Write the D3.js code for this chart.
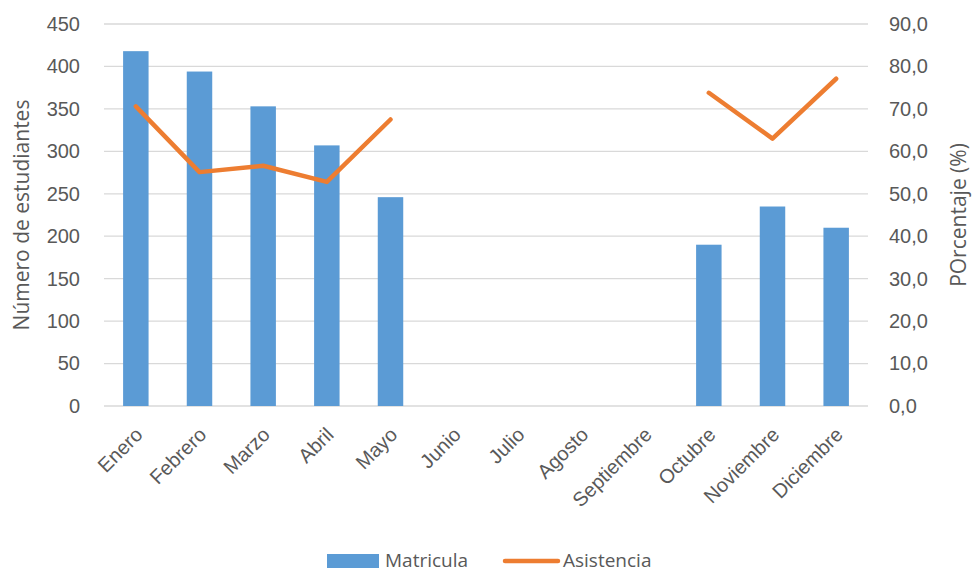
<!DOCTYPE html>
<html>
<head>
<meta charset="utf-8">
<script src="https://cdn.jsdelivr.net/npm/d3@7"></script>
<style>
  body { margin: 0; background: #fff; }
  svg { font-family: "Open Sans", sans-serif; }
</style>
</head>
<body>
<div id="chart"></div>
<script>
const months = ['Enero', 'Febrero', 'Marzo', 'Abril', 'Mayo', 'Junio', 'Julio',
  'Agosto', 'Septiembre', 'Octubre', 'Noviembre', 'Diciembre'];
const matricula = [418, 394, 353, 307, 246, null, null, null, null, 190, 235, 210];
const asistencia = [70.6, 55.1, 56.6, 52.8, 67.5, null, null, null, null, 73.8, 63.0, 77.1];
const leftTicks = [0, 50, 100, 150, 200, 250, 300, 350, 400, 450];
const rightTicks = [0, 10, 20, 30, 40, 50, 60, 70, 80, 90];

const width = 972, height = 572;
const margin = { top: 24, right: 104, bottom: 166, left: 104 };
const textColor = '#595959';

const svg = d3.select('#chart').append('svg')
  .attr('width', width)
  .attr('height', height);

const x = d3.scaleBand()
  .domain(months)
  .range([margin.left, width - margin.right])
  .paddingInner(0.6)
  .paddingOuter(0.3);

const yLeft = d3.scaleLinear().domain([0, 450]).range([height - margin.bottom, margin.top]);
const yRight = d3.scaleLinear().domain([0, 90]).range([height - margin.bottom, margin.top]);

// gridlines
svg.append('g')
  .selectAll('line')
  .data(leftTicks)
  .join('line')
  .attr('x1', margin.left)
  .attr('x2', width - margin.right)
  .attr('y1', d => yLeft(d))
  .attr('y2', d => yLeft(d))
  .attr('stroke', '#d9d9d9')
  .attr('stroke-width', 1.3);

// bars
svg.append('g')
  .selectAll('rect')
  .data(months.map((m, i) => ({ m, v: matricula[i] })).filter(d => d.v != null))
  .join('rect')
  .attr('x', d => x(d.m))
  .attr('y', d => yLeft(d.v))
  .attr('width', x.bandwidth())
  .attr('height', d => yLeft(0) - yLeft(d.v))
  .attr('fill', '#5B9BD5');

// line (gap where there is no data)
const line = d3.line()
  .defined(d => d.v != null)
  .x(d => x(d.m) + x.bandwidth() / 2)
  .y(d => yRight(d.v));

svg.append('path')
  .datum(months.map((m, i) => ({ m, v: asistencia[i] })))
  .attr('fill', 'none')
  .attr('stroke', '#ED7D31')
  .attr('stroke-width', 4.5)
  .attr('stroke-linejoin', 'round')
  .attr('stroke-linecap', 'round')
  .attr('d', line);

// left axis
const leftAxis = svg.append('g')
  .attr('transform', `translate(${margin.left},0)`)
  .call(d3.axisLeft(yLeft).tickValues(leftTicks).tickSize(0).tickPadding(24));
leftAxis.select('.domain').remove();
leftAxis.selectAll('text')
  .attr('fill', textColor)
  .style('font-size', '20px');

// right axis
const rightAxis = svg.append('g')
  .attr('transform', `translate(${width - margin.right},0)`)
  .call(d3.axisRight(yRight).tickValues(rightTicks).tickSize(0).tickPadding(21)
    .tickFormat(d => d3.format('.1f')(d).replace('.', ',')));
rightAxis.select('.domain').remove();
rightAxis.selectAll('text')
  .attr('fill', textColor)
  .style('font-size', '20px');

// bottom axis labels
const bottomAxis = svg.append('g')
  .attr('transform', `translate(0,${height - margin.bottom})`)
  .call(d3.axisBottom(x).tickSize(0).tickPadding(0));
bottomAxis.select('.domain').remove();
bottomAxis.selectAll('text')
  .attr('fill', textColor)
  .style('font-size', '20px')
  .attr('text-anchor', 'end')
  .attr('dy', 0)
  .attr('transform', 'translate(8,30) rotate(-45)');

// axis titles
svg.append('text')
  .attr('transform', `translate(29,${(margin.top + height - margin.bottom) / 2}) rotate(-90)`)
  .attr('text-anchor', 'middle')
  .attr('fill', textColor)
  .style('font-size', '21px')
  .text('Número de estudiantes');

svg.append('text')
  .attr('transform', `translate(966,${(margin.top + height - margin.bottom) / 2}) rotate(-90)`)
  .attr('text-anchor', 'middle')
  .attr('fill', textColor)
  .style('font-size', '21px')
  .text('POrcentaje (%)');

// legend
const legend = svg.append('g').attr('transform', 'translate(327,561)');
legend.append('rect')
  .attr('x', 0).attr('y', -7)
  .attr('width', 52).attr('height', 14)
  .attr('fill', '#5B9BD5');
legend.append('text')
  .attr('x', 58).attr('y', 6)
  .attr('fill', textColor)
  .style('font-size', '19px')
  .text('Matricula');
legend.append('line')
  .attr('x1', 178).attr('x2', 231)
  .attr('y1', 0).attr('y2', 0)
  .attr('stroke', '#ED7D31')
  .attr('stroke-width', 4.5)
  .attr('stroke-linecap', 'round');
legend.append('text')
  .attr('x', 236).attr('y', 6)
  .attr('fill', textColor)
  .style('font-size', '19px')
  .text('Asistencia');
</script>
</body>
</html>
